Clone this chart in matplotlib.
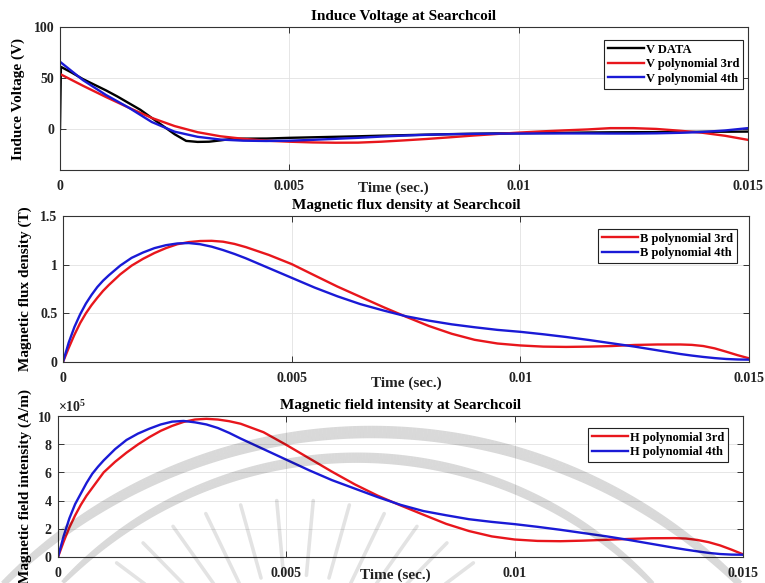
import numpy as np
import matplotlib
matplotlib.use("Agg")
import matplotlib.pyplot as plt
from matplotlib.collections import LineCollection

plt.rcParams['font.family'] = ['Liberation Serif', 'DejaVu Serif']
plt.rcParams['font.weight'] = 'bold'
plt.rcParams['mathtext.fontset'] = 'custom'
plt.rcParams['mathtext.rm'] = 'Liberation Serif'

# ---------------- data ----------------
# measured induced voltage at the search coil (time in ms, volts)
t_data_ms = [0, 0.02, 0.25, 0.5, 0.75, 1.0, 1.25, 1.5, 1.75, 2.0, 2.25, 2.5, 2.75,
             3.0, 3.25, 3.5, 3.75, 4.0, 4.5, 5.0, 5.5, 6.0, 6.5, 7.0, 7.5, 8.0,
             8.5, 9.0, 9.5, 10.0, 10.5, 11.0, 11.5, 12.0, 12.5, 13.0, 13.5,
             14.0, 14.5, 15.0]
v_data = [0, 61, 55.5, 49, 43.5, 38, 32, 25.5, 19, 11, 3, -5, -11.5,
          -12.5, -12.3, -11, -9.5, -9.3, -9.2, -8.5, -8.0, -7.5, -7.0, -6.4, -5.9, -5.4,
          -4.9, -4.5, -4.2, -4.0, -3.8, -3.6, -3.3, -3.1, -3.0, -2.9, -2.8,
          -2.6, -2.5, -2.4]

# polynomial fits of the voltage (time in ms)
t_v_ms = [0, 0.5, 1.0, 1.5, 2.0, 2.5, 3.0, 3.5, 4.0, 4.5, 5.0, 5.5, 6.0, 6.5, 7.0,
          7.5, 8.0, 8.5, 9.0, 9.5, 10.0, 10.5, 11.0, 11.5, 12.0, 12.5, 13.0, 13.5,
          14.0, 14.5, 15.0]
v_poly3 = [54, 42.5, 31.5, 21, 11, 3, -3, -7, -9.5, -11.3, -12.3, -13, -13.3, -13.2,
           -12.3, -11, -9.6, -8, -6.3, -4.8, -3.4, -2.2, -1.2, -0.3, 1.0, 1.0, 0.2,
           -1.5, -3.5, -6.5, -10.5]
v_poly4 = [66, 48, 33.5, 21, 7, -2.5, -7.5, -10.2, -11.3, -11.6, -11.3, -10.5, -9.5,
           -8.5, -7.3, -6.3, -5.5, -5, -4.6, -4.4, -4.3, -4.2, -4.2, -4.2, -4.3, -4.3,
           -4.1, -3.6, -2.8, -1.3, 1.0]

# flux density and field intensity (time in ms)
t_bh_ms = [0, 0.125, 0.25, 0.375, 0.5, 0.625, 0.75, 0.875, 1.0, 1.25, 1.5, 1.75,
           2.0, 2.25, 2.5, 2.75, 3.0, 3.25, 3.5, 3.75, 4.0, 4.5, 5.0, 5.5, 6.0,
           6.5, 7.0, 7.5, 8.0, 8.5, 9.0, 9.5, 10.0, 10.5, 11.0, 11.5, 12.0, 12.5,
           13.0, 13.5, 13.75, 14.0, 14.25, 14.5, 14.75, 15.0]
b_poly3 = [0, 0.145, 0.28, 0.40, 0.50, 0.585, 0.66, 0.73, 0.79, 0.90, 0.99, 1.06,
           1.12, 1.17, 1.21, 1.232, 1.243, 1.245, 1.236, 1.213, 1.18, 1.10, 1.006,
           0.89, 0.775, 0.67, 0.565, 0.465, 0.37, 0.29, 0.228, 0.19, 0.17, 0.158,
           0.155, 0.158, 0.164, 0.175, 0.18, 0.18, 0.176, 0.164, 0.14, 0.106, 0.07,
           0.038]
b_poly4 = [0, 0.20, 0.36, 0.49, 0.60, 0.69, 0.77, 0.835, 0.89, 0.99, 1.07, 1.125,
           1.17, 1.20, 1.218, 1.222, 1.21, 1.185, 1.15, 1.11, 1.065, 0.965, 0.865,
           0.765, 0.675, 0.595, 0.53, 0.47, 0.425, 0.387, 0.357, 0.33, 0.31, 0.285,
           0.257, 0.226, 0.192, 0.158, 0.12, 0.082, 0.066, 0.052, 0.04, 0.031,
           0.026, 0.024]
# field intensity in units of 1e5 A/m
h_poly3 = [0, 1.1, 2.1, 2.95, 3.7, 4.35, 4.9, 5.45, 6.0, 6.75, 7.4, 7.98, 8.5,
           8.95, 9.3, 9.58, 9.75, 9.8, 9.75, 9.63, 9.45, 8.85, 7.95, 7.0, 6.05,
           5.15, 4.35, 3.66, 3.0, 2.35, 1.84, 1.46, 1.24, 1.14, 1.12, 1.16, 1.22,
           1.28, 1.33, 1.34, 1.31, 1.21, 1.05, 0.82, 0.52, 0.19]
h_poly4 = [0, 1.5, 2.75, 3.75, 4.5, 5.25, 5.9, 6.4, 6.85, 7.65, 8.3, 8.75, 9.1,
           9.4, 9.6, 9.65, 9.55, 9.4, 9.15, 8.8, 8.4, 7.65, 6.9, 6.15, 5.45, 4.85,
           4.25, 3.7, 3.26, 2.96, 2.68, 2.49, 2.33, 2.14, 1.93, 1.70, 1.47, 1.21,
           0.93, 0.65, 0.52, 0.40, 0.29, 0.21, 0.17, 0.16]

x_ticks = [0, 0.005, 0.01, 0.015]
x_tick_labels = ['0', '0.005', '0.01', '0.015']
v_ticks = [0, 50, 100]
v_tick_labels = ['0', '50', '100']
b_ticks = [0, 0.5, 1, 1.5]
b_tick_labels = ['0', '0.5', '1', '1.5']
h_ticks = [0, 2e5, 4e5, 6e5, 8e5, 10e5]

RED = '#e8161c'
BLUE = '#1a1ad6'
BLACK = '#000000'
LW = 1.7


def sec(ms):
    return [v * 1e-3 for v in ms]


fig = plt.figure(figsize=(7.65, 5.83), dpi=100)
W, H = 765.0, 583.0


def axes_px(left, top, right, bottom):
    return fig.add_axes([left / W, 1 - bottom / H, (right - left) / W, (bottom - top) / H])


def style(ax):
    ax.set_xlim(0, 0.015)
    ax.set_xticks(x_ticks, labels=x_tick_labels)
    ax.grid(True, color='#e2e2e2', lw=0.6)
    ax.set_axisbelow(True)
    ax.tick_params(direction='in', top=True, right=True, length=4, width=0.7,
                   color='#333333', labelsize=10, labelcolor='#222222')
    ax.tick_params(axis='x', pad=7)
    ax.tick_params(axis='y', pad=4)
    for s in ax.spines.values():
        s.set_linewidth(0.8)
        s.set_color('#333333')


def legend(ax, x, y):
    leg = ax.legend(loc='upper right', bbox_to_anchor=(x, y), frameon=True,
                    fancybox=False, edgecolor='#222222', framealpha=1,
                    prop={'weight': 'bold', 'size': 9}, handlelength=2.9,
                    handletextpad=0.15, borderpad=0.3, labelspacing=0.2,
                    borderaxespad=0)
    leg.get_frame().set_linewidth(0.8)


def xlabel(ax, x, y):
    ax.set_xlabel('Time (sec.)', fontsize=11, fontweight='bold', color='#222222')
    ax.xaxis.set_label_coords(x, y)
    ax.xaxis.label.set_va('center')


# ---- induced voltage ----
ax1 = axes_px(60, 27, 748, 170)
ax1.plot(sec(t_data_ms), v_data, color=BLACK, lw=LW, label='V DATA')
ax1.plot(sec(t_v_ms), v_poly3, color=RED, lw=LW, label='V polynomial 3rd')
ax1.plot(sec(t_v_ms), v_poly4, color=BLUE, lw=LW, label='V polynomial 4th')
style(ax1)
ax1.set_ylim(-40, 100)
ax1.set_yticks(v_ticks, labels=v_tick_labels)
ax1.set_title('Induce Voltage at Searchcoil', fontsize=11, fontweight='bold', pad=5)
ax1.set_ylabel('Induce Voltage (V)', fontsize=11, fontweight='bold', labelpad=6)
xlabel(ax1, 0.485, -0.126)
legend(ax1, 0.9927, 0.909)

# ---- flux density ----
ax2 = axes_px(63, 216, 749, 362)
ax2.plot(sec(t_bh_ms), b_poly3, color=RED, lw=LW, label='B polynomial 3rd')
ax2.plot(sec(t_bh_ms), b_poly4, color=BLUE, lw=LW, label='B polynomial 4th')
style(ax2)
ax2.set_ylim(0, 1.5)
ax2.set_yticks(b_ticks, labels=b_tick_labels)
ax2.set_title('Magnetic flux density at Searchcoil', fontsize=11, fontweight='bold', pad=5)
ax2.set_ylabel('Magnetic flux density (T)', fontsize=11, fontweight='bold', labelpad=6)
xlabel(ax2, 0.50, -0.144)
legend(ax2, 0.9825, 0.911)

# ---- field intensity ----
ax3 = axes_px(58, 416, 743, 557)
ax3.plot(sec(t_bh_ms), [h * 1e5 for h in h_poly3], color=RED, lw=LW, label='H polynomial 3rd')
ax3.plot(sec(t_bh_ms), [h * 1e5 for h in h_poly4], color=BLUE, lw=LW, label='H polynomial 4th')
style(ax3)
ax3.set_ylim(0, 10e5)
ax3.set_yticks(h_ticks)
ax3.ticklabel_format(axis='y', style='sci', scilimits=(5, 5), useMathText=True)
ax3.yaxis.get_offset_text().set_fontsize(10)
ax3.set_title('Magnetic field intensity at Searchcoil', fontsize=11, fontweight='bold', pad=5)
ax3.set_ylabel('Magnetic field intensity (A/m)', fontsize=11, fontweight='bold', labelpad=4)
xlabel(ax3, 0.492, -0.128)
legend(ax3, 0.978, 0.915)

# ---- faint watermark (arcs and a fan of rays) laid over the lower panel ----
over = fig.add_axes([0, 0, 1, 1], zorder=10)
over.set_xlim(0, W)
over.set_ylim(H, 0)
over.axis('off')
for cx, cy, r, a0, a1, wmax in [(371.5, 954.0, 522.0, 138, 40, 9.0),
                                (356.9, 866.7, 409.0, 136, 42, 7.5)]:
    th = np.radians(np.linspace(a0, a1, 240))
    px = cx + r * np.cos(th)
    py = cy - r * np.sin(th)
    pts = np.column_stack([px, py]).reshape(-1, 1, 2)
    segs = np.concatenate([pts[:-1], pts[1:]], axis=1)
    s = np.linspace(0, 1, len(segs))
    widths = 3.0 + (wmax - 3.0) * np.sin(np.pi * s) ** 0.6
    over.add_collection(LineCollection(segs, colors='black', alpha=0.15,
                                       linewidths=widths, capstyle='butt'))

ray_segs = []
for ang in np.radians(np.linspace(138, 42, 12)):
    x_out, y_out = 295 + 240 * np.cos(ang), 690 - 190 * np.sin(ang)
    x_in, y_in = 295 + 150 * np.cos(ang), 690 - 115 * np.sin(ang)
    ray_segs.append([(x_in, y_in), (x_out, y_out)])
over.add_collection(LineCollection(ray_segs, colors='black', alpha=0.11,
                                   linewidths=2.6, capstyle='round'))

fig.savefig('out.png', dpi=100, facecolor='white')
